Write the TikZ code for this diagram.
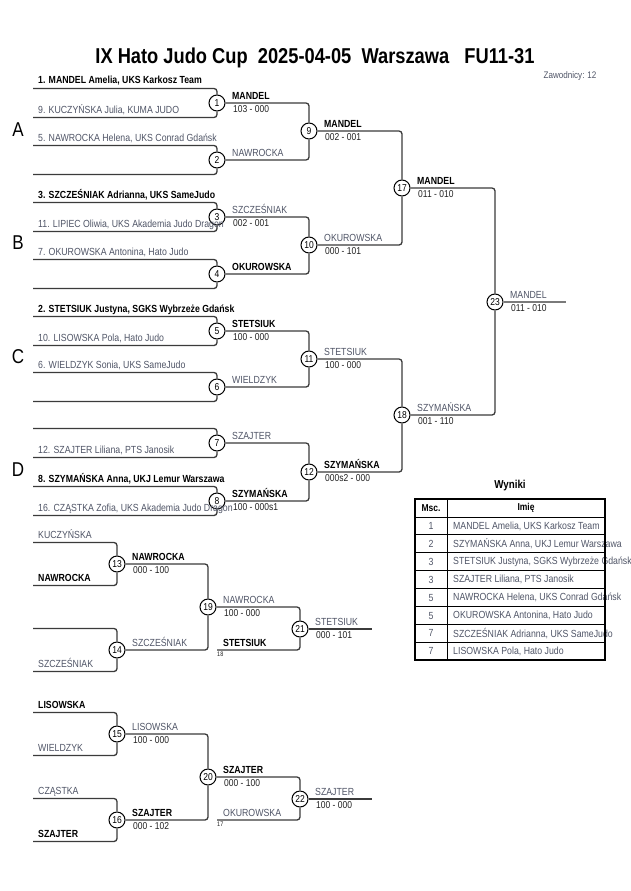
\documentclass[tikz,border=0pt]{standalone}
\usepackage{fontspec}
\setmainfont{Liberation Sans}[FakeStretch=0.85]
\usetikzlibrary{positioning,calc}
\definecolor{cLine}{HTML}{3b3b3b}
\definecolor{cGrey}{HTML}{505567}
\definecolor{cInk}{HTML}{222222}
\definecolor{cFin}{HTML}{7a7a7a}
\tikzset{
  br/.style={draw=cLine,line width=1.3pt,rounded corners=3pt},
  fin/.style={draw=cFin,line width=1.8pt},
  mnum/.style={circle,draw=black,fill=white,line width=1pt,minimum size=16pt,
               inner sep=0pt,font=\fontsize{10}{10}\selectfont},
  entry/.style={anchor=base west,inner sep=0pt,text=cGrey,font=\fontsize{10.3}{12}\selectfont},
  entrybold/.style={entry,text=black,font=\fontsize{10.3}{12}\selectfont\bfseries},
  score/.style={anchor=base west,inner sep=0pt,text=cInk,font=\fontsize{10}{12}\selectfont},
  pool/.style={font=\fontsize{20}{20}\selectfont},
  tinyno/.style={anchor=north west,inner sep=0pt,text=cInk,font=\fontsize{6.5}{7}\selectfont},
  cell/.style={inner sep=0pt,text=cGrey,font=\fontsize{10.3}{12}\selectfont},
  cellhead/.style={inner sep=0pt,font=\fontsize{10}{12}\selectfont\bfseries},
}

\begin{document}
\begin{tikzpicture}[x=1pt,y=-1pt]
  \useasboundingbox[fill=white] (0,0) rectangle (630,891);
  % title
  \node[font=\fontsize{21.5}{24}\selectfont\bfseries] (title) at (315,58)
       {IX Hato Judo Cup\ \ 2025-04-05\ \ Warszawa\ \ \ FU11-31};
  \node[anchor=east,text=cGrey,font=\fontsize{9.5}{12}\selectfont] (count) at (600,76) {Zawodnicy: 12};
  \foreach \p/\y in {A/130,B/243,C/357,D/470}{
     \node[pool] (pool\p) at (18,\y) {\p};
  }

  % first round
  \foreach \n/\y in {1/103,2/160,3/217,4/274,5/331,6/387,7/443,8/501}{
     \node[mnum] (m\n) at (217,\y) {\n};
     \coordinate (t\n) at (33,\y-14.5);
     \coordinate (b\n) at (33,\y+14.5);
     \draw[br] (t\n) -| (m\n);
     \draw[br] (b\n) -| (m\n);
  }
  \foreach \c/\s/\t in {t1/entrybold/{1. MANDEL Amelia, UKS Karkosz Team},
                        b1/entry/{9. KUCZYŃSKA Julia, KUMA JUDO},
                        t2/entry/{5. NAWROCKA Helena, UKS Conrad Gdańsk},
                        t3/entrybold/{3. SZCZEŚNIAK Adrianna, UKS SameJudo},
                        b3/entry/{11. LIPIEC Oliwia, UKS Akademia Judo Dragon},
                        t4/entry/{7. OKUROWSKA Antonina, Hato Judo},
                        t5/entrybold/{2. STETSIUK Justyna, SGKS Wybrzeże Gdańsk},
                        b5/entry/{10. LISOWSKA Pola, Hato Judo},
                        t6/entry/{6. WIELDZYK Sonia, UKS SameJudo},
                        b7/entry/{12. SZAJTER Liliana, PTS Janosik},
                        t8/entrybold/{8. SZYMAŃSKA Anna, UKJ Lemur Warszawa},
                        b8/entry/{16. CZĄSTKA Zofia, UKS Akademia Judo Dragon}}{
     \node[style=\s] (l\c) at ([shift={(5pt,4.5pt)}]\c) {\t};
  }

  % main tree
  \foreach \n/\y in {9/131,10/245,11/359,12/472}{
     \node[mnum] (m\n) at (309,\y) {\n};
  }
  \node[mnum] (m17) at (402,188) {17};
  \node[mnum] (m18) at (402,415) {18};
  \node[mnum] (m23) at (495,302) {23};
  \coordinate (end23) at (566,302);
  \foreach \a/\b in {1/9,2/9,3/10,4/10,5/11,6/11,7/12,8/12,9/17,10/17,11/18,12/18,17/23,18/23}{
     \draw[br] (m\a) -| (m\b);
  }
  \draw[fin] (m23) -- (end23);

  % repechage
  \foreach \n/\y in {13/564,14/650,15/734,16/820}{
     \node[mnum] (m\n) at (117,\y) {\n};
     \coordinate (t\n) at (33,\y-21.5);
     \coordinate (b\n) at (33,\y+21.5);
     \draw[br] (t\n) -| (m\n);
     \draw[br] (b\n) -| (m\n);
  }
  \node[mnum] (m19) at (208,607) {19};
  \node[mnum] (m20) at (208,777) {20};
  \node[mnum] (m21) at (300,629) {21};
  \node[mnum] (m22) at (300,799) {22};
  \coordinate (x18) at (217,650);
  \coordinate (x17) at (217,820);
  \coordinate (end21) at (372,629);
  \coordinate (end22) at (372,799);
  \foreach \a/\b in {13/19,14/19,15/20,16/20,19/21,20/22}{
     \draw[br] (m\a) -| (m\b);
  }
  \draw[br] (x18) -| (m21);
  \draw[br] (x17) -| (m22);
  \draw[br] (m21) -- (end21);
  \draw[br] (m22) -- (end22);
  \foreach \c/\s/\t in {t13/entry/KUCZYŃSKA, b13/entrybold/NAWROCKA,
                        b14/entry/SZCZEŚNIAK,
                        t15/entrybold/LISOWSKA, b15/entry/WIELDZYK,
                        t16/entry/CZĄSTKA, b16/entrybold/SZAJTER}{
     \node[style=\s] (l\c) at ([shift={(5pt,4.5pt)}]\c) {\t};
  }
  \node[entrybold] (lx18) at ([shift={(6pt,4pt)}]x18) {STETSIUK};
  \node[entry] (lx17) at ([shift={(6pt,4pt)}]x17) {OKUROWSKA};
  \node[tinyno] (nx18) at ([shift={(0pt,-2pt)}]x18) {18};
  \node[tinyno] (nx17) at ([shift={(0pt,-2pt)}]x17) {17};

  % winners and scores
  \foreach \m/\s/\t in {1/entrybold/MANDEL, 2/entry/NAWROCKA, 3/entry/SZCZEŚNIAK,
                        4/entrybold/OKUROWSKA, 5/entrybold/STETSIUK, 6/entry/WIELDZYK,
                        7/entry/SZAJTER, 8/entrybold/SZYMAŃSKA, 9/entrybold/MANDEL,
                        10/entry/OKUROWSKA, 11/entry/STETSIUK, 12/entrybold/SZYMAŃSKA,
                        17/entrybold/MANDEL, 18/entry/SZYMAŃSKA, 23/entry/MANDEL,
                        13/entrybold/NAWROCKA, 14/entry/SZCZEŚNIAK, 15/entry/LISOWSKA,
                        16/entrybold/SZAJTER, 19/entry/NAWROCKA, 20/entrybold/SZAJTER,
                        21/entry/STETSIUK, 22/entry/SZAJTER}{
     \node[style=\s] (w\m) at ([shift={(15pt,4pt)}]m\m.center) {\t};
  }
  \foreach \m/\t in {1/103 - 000, 3/002 - 001, 5/100 - 000, 8/100 - 000s1,
                     9/002 - 001, 10/000 - 101, 11/100 - 000, 12/000s2 - 000,
                     17/011 - 010, 18/001 - 110, 23/011 - 010,
                     13/000 - 100, 15/100 - 000, 16/000 - 102,
                     19/100 - 000, 20/000 - 100, 21/000 - 101, 22/100 - 000}{
     \node[score] (s\m) at ([shift={(16pt,-9.5pt)}]m\m.center) {\t};
  }

  % results table
  \node[font=\fontsize{11.5}{13}\selectfont\bfseries] (wyn) at (510,486) {Wyniki};
  \foreach \k in {0,...,7}{
     \draw[line width=0.9pt] (415,517+17.9*\k) -- (605,517+17.9*\k);
  }
  \draw[line width=0.9pt] (447,499) -- (447,660);
  \node[cellhead] (hmsc) at (431,508) {Msc.};
  \node[cellhead] (hname) at (526,508) {Imię};
  \foreach \k/\p/\t in {0/1/{MANDEL Amelia, UKS Karkosz Team},
                        1/2/{SZYMAŃSKA Anna, UKJ Lemur Warszawa},
                        2/3/{STETSIUK Justyna, SGKS Wybrzeże Gdańsk},
                        3/3/{SZAJTER Liliana, PTS Janosik},
                        4/5/{NAWROCKA Helena, UKS Conrad Gdańsk},
                        5/5/{OKUROWSKA Antonina, Hato Judo},
                        6/7/{SZCZEŚNIAK Adrianna, UKS SameJudo},
                        7/7/{LISOWSKA Pola, Hato Judo}}{
     \node[cell] (p\k) at (431,526+17.9*\k) {\p};
     \node[cell,anchor=west] (n\k) at (453,526+17.9*\k) {\t};
  }
  \draw[line width=2pt] (415,499) rectangle (605,660);
\end{tikzpicture}
\end{document}
